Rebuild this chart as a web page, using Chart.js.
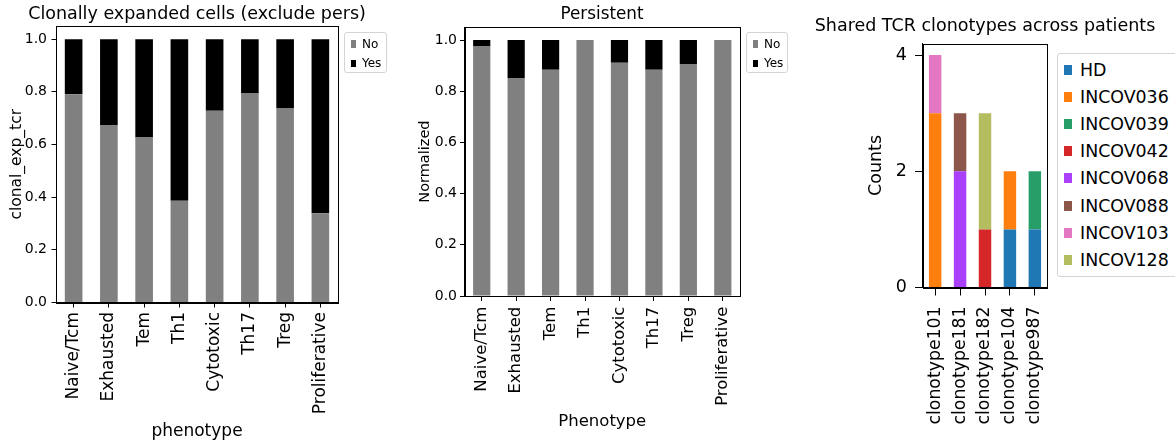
<!DOCTYPE html>
<html>
<head>
<meta charset="utf-8">
<script src="https://cdn.jsdelivr.net/npm/chart.js@4.4.1/dist/chart.umd.min.js"></script>
<style>
  body { margin: 0; background: #fff; font-family: 'DejaVu Sans', sans-serif; }
  #wrap { position: relative; width: 1175px; height: 444px; overflow: hidden; }
  .panel { position: absolute; top: 0; height: 444px; }
  .title { position: absolute; white-space: nowrap; transform: translateX(-50%); line-height: 1; color: #000; }
  .legend { position: absolute; border: 1px solid #d4d4d4; border-radius: 3px; background: #fff; box-sizing: border-box; }
  .legend .item { position: absolute; display: flex; align-items: center; white-space: nowrap; color: #000; }
  .legend .mark { display: inline-block; }
</style>
</head>
<body>
<div id="wrap">
  <div class="panel" style="left:0;width:400px"><canvas id="clonal"></canvas></div>
  <div class="panel" style="left:400px;width:400px"><canvas id="persistent"></canvas></div>
  <div class="panel" style="left:800px;width:375px"><canvas id="shared"></canvas></div>
  <div class="title" style="left:197px;top:4.7px;font-size:17.5px">Clonally expanded cells (exclude pers)</div>
  <div class="title" style="left:602px;top:5px;font-size:16.8px">Persistent</div>
  <div class="title" style="left:985px;top:17.2px;font-size:17.5px">Shared TCR clonotypes across patients</div>
  <div class="legend" id="leg1" style="left:344px;top:32px;width:43px;height:41px"></div>
  <div class="legend" id="leg2" style="left:746px;top:32px;width:42px;height:41px"></div>
  <div class="legend" id="leg3" style="left:1056.5px;top:53px;width:125px;height:224px"></div>
</div>
<script>
Chart.defaults.font.family = "'DejaVu Sans', sans-serif";
Chart.defaults.color = '#000';

const phenotypes = ['Naive/Tcm', 'Exhausted', 'Tem', 'Th1', 'Cytotoxic', 'Th17', 'Treg', 'Proliferative'];
const clonalNo = [0.791, 0.674, 0.627, 0.386, 0.728, 0.794, 0.739, 0.339];
const clonalYes = [0.209, 0.326, 0.373, 0.614, 0.272, 0.206, 0.261, 0.661];
const persNo = [0.975, 0.852, 0.884, 1.0, 0.911, 0.884, 0.906, 1.0];
const persYes = [0.025, 0.148, 0.116, 0.0, 0.089, 0.116, 0.094, 0.0];
const fractionTicks = [0, 0.2, 0.4, 0.6, 0.8, 1.0];

const clonotypes = ['clonotype101', 'clonotype181', 'clonotype182', 'clonotype104', 'clonotype987'];
const countsHD = [0, 0, 0, 1, 1];
const countsINCOV036 = [3, 0, 0, 1, 0];
const countsINCOV039 = [0, 0, 0, 0, 1];
const countsINCOV042 = [0, 0, 1, 0, 0];
const countsINCOV068 = [0, 2, 0, 0, 0];
const countsINCOV088 = [0, 1, 0, 0, 0];
const countsINCOV103 = [1, 0, 0, 0, 0];
const countsINCOV128 = [0, 0, 2, 0, 0];
const countTicks = [0, 2, 4];

// box around the plot area, like matplotlib spines
const frame = {
  id: 'frame',
  afterDraw(chart) {
    const { ctx, chartArea: a } = chart;
    const l = Math.round(a.left) + 0.5;
    const t = Math.round(a.top) + 0.5;
    const r = Math.round(a.right) + 0.5;
    const b = Math.round(a.bottom) + 0.5;
    ctx.save();
    ctx.strokeStyle = '#000';
    ctx.lineWidth = 1;
    ctx.strokeRect(l, t, r - l, b - t);
    ctx.restore();
  },
};

function stackedOptions(o) {
  return {
    responsive: true,
    maintainAspectRatio: false,
    animation: false,
    events: [],
    layout: { padding: o.padding },
    plugins: { legend: { display: false }, tooltip: { enabled: false } },
    datasets: { bar: { categoryPercentage: 1, barPercentage: 0.5 } },
    scales: {
      x: {
        stacked: true,
        afterFit: (s) => { s.height = o.xHeight; },
        grid: { drawOnChartArea: false, offset: false, color: '#000', tickLength: o.xTick },
        border: { color: '#000' },
        ticks: { color: '#000', font: { size: o.xFont }, minRotation: 90, maxRotation: 90, autoSkip: false, padding: o.xPad },
        title: {
          display: !!o.xTitle,
          text: o.xTitle || '',
          color: '#000',
          font: { size: o.xFont },
          padding: { top: 0, bottom: 0 },
        },
      },
      y: {
        stacked: true,
        min: 0,
        max: o.yMax,
        afterFit: (s) => { s.width = o.yWidth; },
        afterBuildTicks: (s) => { s.ticks = o.yTicks.map((v) => ({ value: v })); },
        grid: { drawOnChartArea: false, color: '#000', tickLength: o.yTick },
        border: { color: '#000' },
        ticks: { color: '#000', font: { size: o.yFont }, padding: o.yPad, callback: o.fmt },
        title: {
          display: true,
          text: o.yTitle,
          color: '#000',
          font: { size: o.yTitleFont },
          padding: { top: o.yTitlePad, bottom: o.yTitlePad },
        },
      },
    },
  };
}

function htmlLegend(id, datasets, s) {
  const box = document.getElementById(id);
  datasets.forEach((ds, i) => {
    const item = document.createElement('div');
    item.className = 'item';
    item.style.left = s.left + 'px';
    item.style.top = (s.first + i * s.step - 10) + 'px';
    item.style.height = '20px';
    item.style.fontSize = s.font + 'px';
    const mark = document.createElement('span');
    mark.className = 'mark';
    mark.style.width = s.mw + 'px';
    mark.style.height = s.mh + 'px';
    mark.style.background = ds.backgroundColor;
    mark.style.marginRight = s.gap + 'px';
    item.appendChild(mark);
    item.appendChild(document.createTextNode(ds.label));
    box.appendChild(item);
  });
}

const fmt1 = (v) => Number(v).toFixed(1);

const clonalSets = [
  { label: 'No', data: clonalNo, backgroundColor: '#808080' },
  { label: 'Yes', data: clonalYes, backgroundColor: '#000000' },
];
new Chart(document.getElementById('clonal'), {
  type: 'bar',
  data: { labels: phenotypes, datasets: clonalSets },
  options: stackedOptions({
    padding: { left: 0, top: 26, right: 62, bottom: 2.5 },
    xHeight: 139, xTick: 5, xPad: 4.5, xFont: 17, xTitle: 'phenotype',
    yMax: 1.05, yTicks: fractionTicks, yWidth: 56, yTick: 4.5, yPad: 4.5, yFont: 14, fmt: fmt1,
    yTitle: 'clonal_exp_tcr', yTitleFont: 15.5, yTitlePad: 7.7,
  }),
  plugins: [frame],
});

const persSets = [
  { label: 'No', data: persNo, backgroundColor: '#808080' },
  { label: 'Yes', data: persYes, backgroundColor: '#000000' },
];
new Chart(document.getElementById('persistent'), {
  type: 'bar',
  data: { labels: phenotypes, datasets: persSets },
  options: stackedOptions({
    padding: { left: 10, top: 27.2, right: 60, bottom: 12 },
    xHeight: 136, xTick: 5, xPad: 5.7, xFont: 16.5, xTitle: 'Phenotype',
    yMax: 1.05, yTicks: fractionTicks, yWidth: 54.5, yTick: 4.5, yPad: 3, yFont: 14, fmt: fmt1,
    yTitle: 'Normalized', yTitleFont: 14.5, yTitlePad: 7,
  }),
  plugins: [frame],
});

const patientSets = [
  { label: 'HD', data: countsHD, backgroundColor: '#1f77b4' },
  { label: 'INCOV036', data: countsINCOV036, backgroundColor: '#ff7f0e' },
  { label: 'INCOV039', data: countsINCOV039, backgroundColor: '#279e68' },
  { label: 'INCOV042', data: countsINCOV042, backgroundColor: '#d62728' },
  { label: 'INCOV068', data: countsINCOV068, backgroundColor: '#aa40fc' },
  { label: 'INCOV088', data: countsINCOV088, backgroundColor: '#8c564b' },
  { label: 'INCOV103', data: countsINCOV103, backgroundColor: '#e377c2' },
  { label: 'INCOV128', data: countsINCOV128, backgroundColor: '#b5bd61' },
];
new Chart(document.getElementById('shared'), {
  type: 'bar',
  data: { labels: clonotypes, datasets: patientSets },
  options: stackedOptions({
    padding: { left: 60, top: 43.5, right: 127.7, bottom: 0 },
    xHeight: 156.5, xTick: 8, xPad: 11, xFont: 17.3,
    yMax: 4.2, yTicks: countTicks, yWidth: 62.7, yTick: 7.7, yPad: 8, yFont: 17.5, fmt: (v) => String(v),
    yTitle: 'Counts', yTitleFont: 17.5, yTitlePad: 5.5,
  }),
  plugins: [frame],
});

htmlLegend('leg1', clonalSets, { left: 6, first: 11, step: 19.4, font: 12, mw: 4.5, mh: 7.5, gap: 6.5 });
htmlLegend('leg2', persSets, { left: 6, first: 11, step: 19.4, font: 12, mw: 4.5, mh: 7.5, gap: 6.5 });
htmlLegend('leg3', patientSets, { left: 6.5, first: 16, step: 27.1, font: 17.4, mw: 8, mh: 10, gap: 8 });
</script>
</body>
</html>
